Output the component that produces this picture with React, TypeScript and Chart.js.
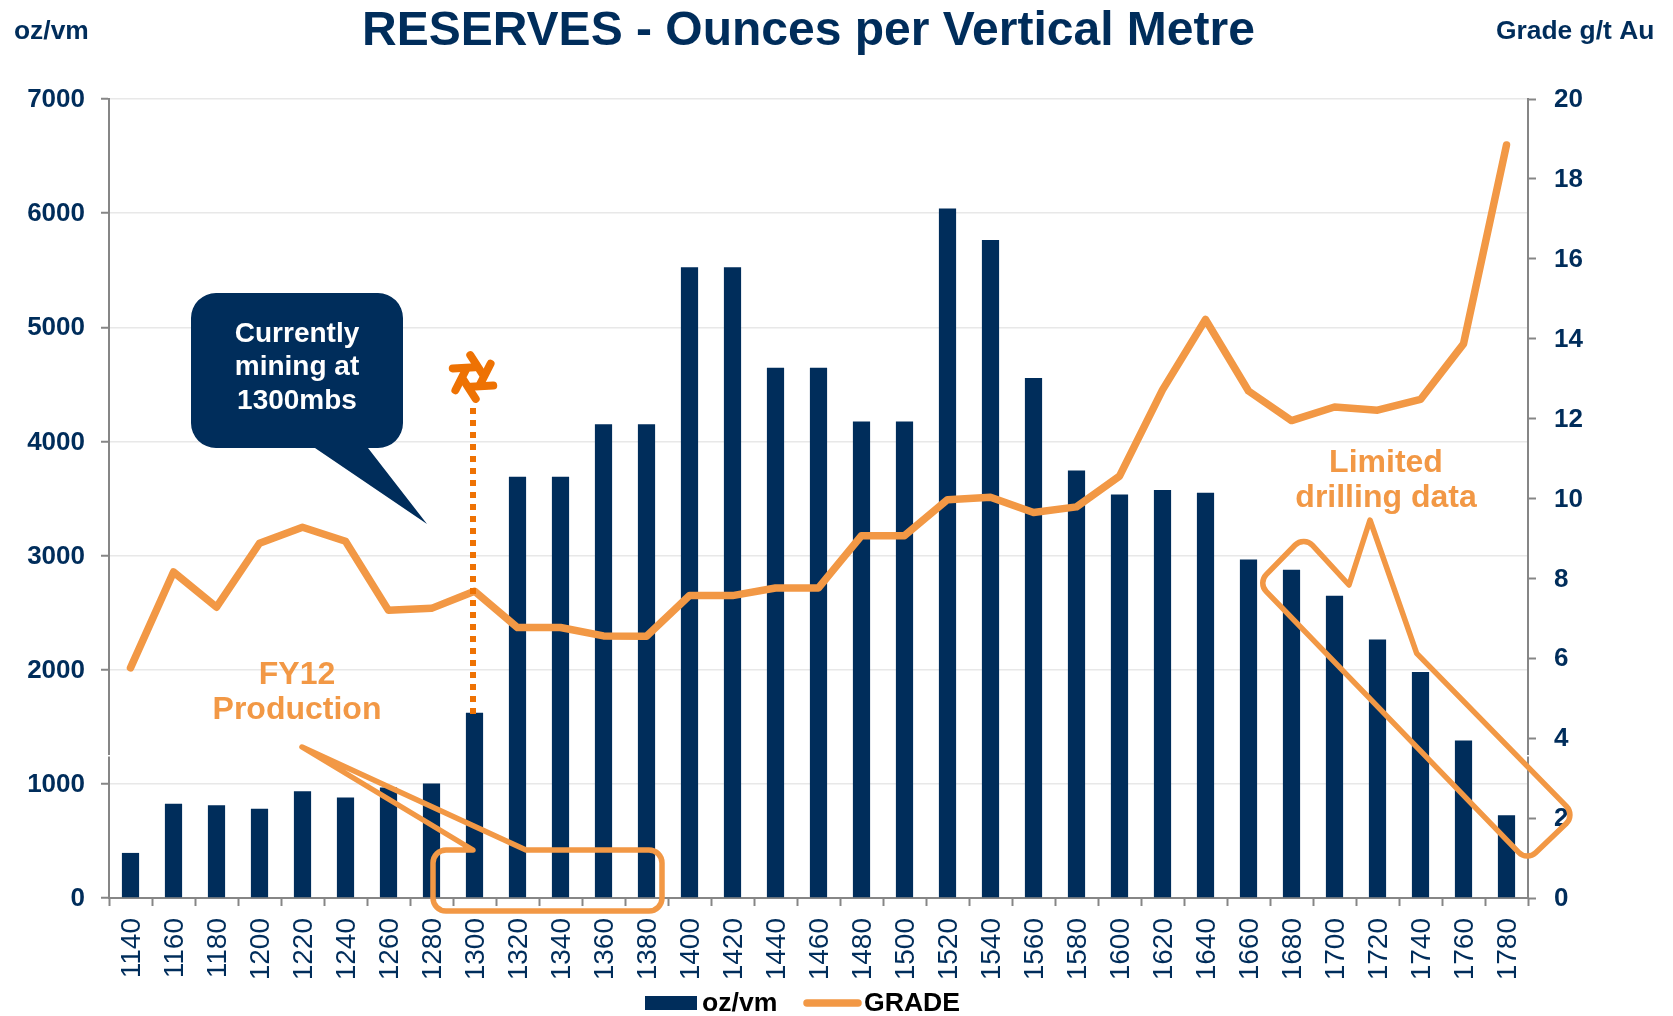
import React, { useEffect, useRef } from "react";
import { Chart, registerables } from "chart.js";

Chart.register(...registerables);

const categories = ["1140","1160","1180","1200","1220","1240","1260","1280","1300","1320","1340","1360","1380","1400","1420","1440","1460","1480","1500","1520","1540","1560","1580","1600","1620","1640","1660","1680","1700","1720","1740","1760","1780"];
const ozPerVm = [395,825,812,782,935,880,968,1003,1622,3690,3690,4150,4150,5525,5525,4645,4645,4175,4175,6040,5765,4555,3745,3535,3575,3550,2965,2875,2647,2265,1980,1380,725];
const grade = [5.76,8.16,7.28,8.88,9.28,8.93,7.2,7.25,7.68,6.77,6.77,6.56,6.55,7.57,7.57,7.76,7.76,9.07,9.07,9.97,10.03,9.65,9.79,10.56,12.72,14.48,12.69,11.95,12.29,12.21,12.48,13.87,18.85];

const NAVY = "#002D5B";
const ORANGE = "#F29845";
const DEEP = "#EE7203";
const FONT = '"Liberation Sans", Arial, sans-serif';

const overlay = {
  id: "overlay",
  afterLayout(chart: any) {
    const b = chart.titleBlock;
    if (b) { b.left -= 28; b.right -= 28; }
  },
  afterDraw(chart: any) {
    const ctx: CanvasRenderingContext2D = chart.ctx;
    const sets = chart.data.datasets;
    ctx.save();
    ctx.textBaseline = "middle";
    ctx.textAlign = "left";

    // small breaks in the axis lines
    ctx.fillStyle = "#FFFFFF";
    ctx.fillRect(107, 755, 4, 1.5);
    ctx.fillRect(1526, 755, 4, 1.5);

    ctx.fillStyle = NAVY;
    ctx.font = `bold 26.4px ${FONT}`;
    ctx.fillText("oz/vm", 14, 32);
    ctx.fillText("Grade g/t Au", 1496, 32);

    // legend
    ctx.fillStyle = sets[1].backgroundColor;
    ctx.fillRect(645, 996, 52, 14);
    ctx.strokeStyle = sets[0].borderColor;
    ctx.lineWidth = 7.5;
    ctx.lineCap = "round";
    ctx.beginPath();
    ctx.moveTo(807, 1003);
    ctx.lineTo(858, 1003);
    ctx.stroke();
    ctx.fillStyle = "#000000";
    ctx.font = `bold 26.6px ${FONT}`;
    ctx.fillText(sets[1].label, 702, 1004);
    ctx.fillText(sets[0].label, 864, 1004);

    // navy speech bubble
    ctx.fillStyle = NAVY;
    ctx.beginPath();
    ctx.moveTo(315, 448);
    ctx.lineTo(427, 524);
    ctx.lineTo(368, 448);
    ctx.arcTo(403, 448, 403, 293, 25);
    ctx.arcTo(403, 293, 191, 293, 25);
    ctx.arcTo(191, 293, 191, 448, 25);
    ctx.arcTo(191, 448, 315, 448, 25);
    ctx.closePath();
    ctx.fill();
    ctx.fillStyle = "#FFFFFF";
    ctx.textAlign = "center";
    ctx.font = `bold 28px ${FONT}`;
    ctx.fillText("Currently", 297, 334);
    ctx.fillText("mining at", 297, 367);
    ctx.fillText("1300mbs", 297, 401);

    // dotted marker line
    ctx.strokeStyle = DEEP;
    ctx.lineWidth = 6;
    ctx.lineCap = "butt";
    ctx.setLineDash([6, 6]);
    ctx.beginPath();
    ctx.moveTo(473, 408);
    ctx.lineTo(473, 714);
    ctx.stroke();
    ctx.setLineDash([]);

    // pinwheel
    const cx = 473, cy = 377;
    ctx.lineWidth = 8;
    ctx.lineCap = "round";
    for (let k = 0; k < 6; k++) {
      const a = ((-97 + k * 60) * Math.PI) / 180;
      const b = a + (80 * Math.PI) / 180;
      ctx.beginPath();
      ctx.moveTo(cx + 22 * Math.cos(a), cy + 22 * Math.sin(a));
      ctx.lineTo(cx + 10 * Math.cos(b), cy + 10 * Math.sin(b));
      ctx.stroke();
    }

    // FY12 callout
    ctx.strokeStyle = ORANGE;
    ctx.lineWidth = 5.5;
    ctx.lineJoin = "round";
    ctx.beginPath();
    ctx.moveTo(302, 747);
    ctx.lineTo(526, 850);
    ctx.arcTo(662, 850, 662, 911, 13);
    ctx.arcTo(662, 911, 433, 911, 13);
    ctx.arcTo(433, 911, 433, 850, 13);
    ctx.arcTo(433, 850, 473, 850, 13);
    ctx.lineTo(473, 850);
    ctx.closePath();
    ctx.stroke();

    // limited drilling callout
    const R = [1575, 815], B = [1527, 861], L = [1258, 583], T = [1304, 536];
    ctx.beginPath();
    ctx.moveTo(1370, 520);
    ctx.lineTo(1416.7, 653.3);
    ctx.arcTo(R[0], R[1], B[0], B[1], 12);
    ctx.arcTo(B[0], B[1], L[0], L[1], 12);
    ctx.arcTo(L[0], L[1], T[0], T[1], 12);
    ctx.arcTo(T[0], T[1], 1349, 585, 12);
    ctx.lineTo(1349, 585);
    ctx.closePath();
    ctx.stroke();

    ctx.fillStyle = ORANGE;
    ctx.font = `bold 32px ${FONT}`;
    ctx.fillText("FY12", 297, 675);
    ctx.fillText("Production", 297, 710);
    ctx.fillText("Limited", 1386, 463);
    ctx.fillText("drilling data", 1386, 498);
    ctx.restore();
  },
};

export default function App() {
  const ref = useRef<HTMLCanvasElement>(null);
  useEffect(() => {
    const plain = (v: any) => String(v);
    const chart = new Chart(ref.current!, {
      type: "bar",
      plugins: [overlay],
      data: {
        labels: categories,
        datasets: [
          { type: "line", label: "GRADE", data: grade, yAxisID: "y2", borderColor: ORANGE, backgroundColor: ORANGE, borderWidth: 7.5, borderCapStyle: "round", borderJoinStyle: "round", pointRadius: 0, tension: 0, order: 1 },
          { type: "bar", label: "oz/vm", data: ozPerVm, yAxisID: "y", backgroundColor: NAVY, barPercentage: 0.4, categoryPercentage: 1, order: 2 },
        ],
      } as any,
      options: {
        responsive: false,
        animation: false,
        devicePixelRatio: 1,
        layout: { padding: 0 },
        plugins: {
          tooltip: { enabled: false },
          legend: { display: false },
          title: {
            display: true,
            text: "RESERVES - Ounces per Vertical Metre",
            color: NAVY,
            font: { family: FONT, size: 48, weight: "bold", lineHeight: 1.2 },
            padding: { top: 3, bottom: 38.4 },
          },
        },
        scales: {
          x: {
            offset: true,
            afterFit: (s: any) => { s.height = 118; },
            border: { color: "#868686", width: 2 },
            grid: { drawOnChartArea: false, drawTicks: true, tickColor: "#868686", tickWidth: 2, tickLength: 8, offset: true },
            ticks: { color: NAVY, font: { family: FONT, size: 28 }, minRotation: 90, maxRotation: 90, autoSkip: false, padding: 12, labelOffset: 2 },
          },
          y: {
            position: "left",
            min: 0,
            max: 7000,
            afterFit: (s: any) => { s.width = 109; },
            border: { color: "#868686", width: 2 },
            grid: { color: "#E8E8E8", lineWidth: 1.5, tickColor: "#868686", tickWidth: 2, tickLength: 8 },
            ticks: { stepSize: 1000, callback: plain, color: NAVY, font: { family: FONT, size: 26, weight: "bold" }, padding: 16, labelOffset: 1 },
          },
          y2: {
            position: "right",
            min: 0,
            max: 20,
            afterFit: (s: any) => { s.width = 145; },
            border: { color: "#868686", width: 2 },
            grid: { drawOnChartArea: false, tickColor: "#868686", tickWidth: 2, tickLength: 8 },
            ticks: { stepSize: 2, callback: plain, color: NAVY, font: { family: FONT, size: 26, weight: "bold" }, padding: 18, labelOffset: 1 },
          },
        },
      } as any,
    });
    return () => chart.destroy();
  }, []);
  return (
    <div style={{ position: "absolute", left: 0, top: 0, width: 1673, height: 1016, background: "#fff" }}>
      <canvas ref={ref} width={1673} height={1016} style={{ display: "block" }} />
    </div>
  );
}
